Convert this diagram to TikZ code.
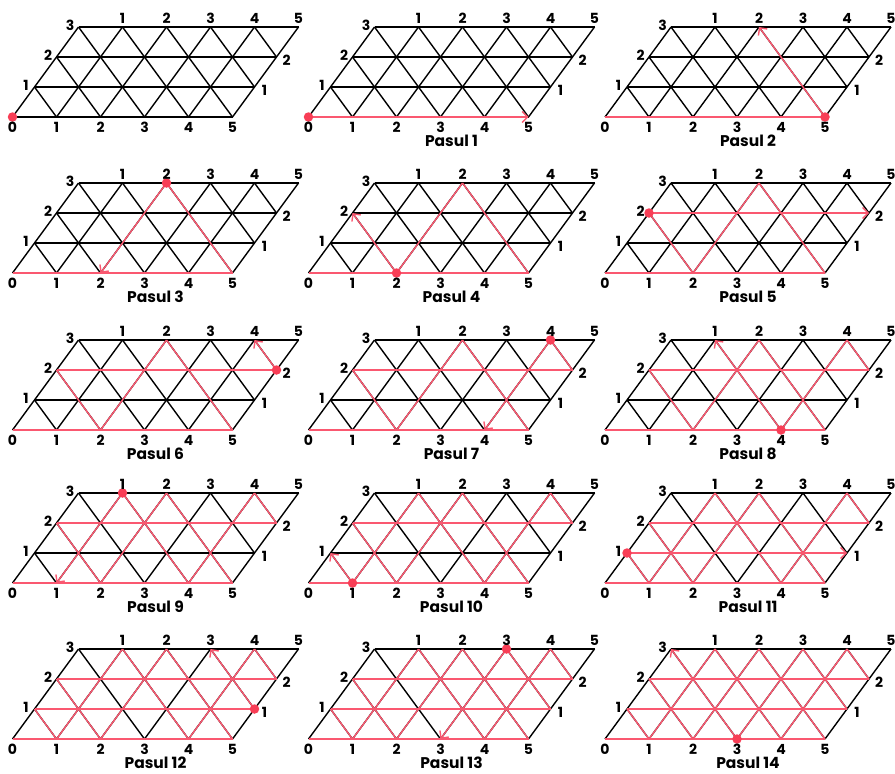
\documentclass[tikz,border=0pt]{standalone}
\usepackage{fontspec}
\setmainfont{Poppins}
\usetikzlibrary{arrows.meta}
\definecolor{pathred}{RGB}{250,88,112}
\definecolor{dotred}{RGB}{248,62,86}
\tikzset{
  gridline/.style={black, line width=1.4pt},
  redpath/.style={pathred, line width=1.4pt},
  redarrow/.style={redpath, -{Straight Barb[length=5.5pt,width=11pt]}},
  num/.style={font=\fontsize{14}{16}\selectfont\bfseries, inner sep=0pt},
  pasul/.style={font=\fontsize{15.5}{17}\selectfont\bfseries, inner sep=0pt},
  reddot/.style={circle, fill=dotred, minimum size=9.5pt, inner sep=0pt},
}
% #1 id, #2 ox, #3 oy, #4 dot a, #5 dot r, #6 caption
\newcommand\drawpanel[6]{%
  \begin{scope}[shift={(#2,#3)}]
    \foreach \a in {0,...,5}{\foreach \r in {0,...,3}{%
      \coordinate (q#1-\a-\r) at ({(\a+0.5*\r)*44},{-\r*30});}}
    \foreach \r in {0,...,3}{\draw[gridline] (q#1-0-\r) -- (q#1-5-\r);}
    \foreach \a in {0,...,5}{\draw[gridline] (q#1-\a-0) -- (q#1-\a-3);}
    \foreach \a/\r/\b/\t in {1/0/0/1,2/0/0/2,3/0/0/3,4/0/1/3,5/0/2/3,5/1/3/3,5/2/4/3}{%
      \draw[gridline] (q#1-\a-\r) -- (q#1-\b-\t);}
    \foreach \s/\a/\r/\b/\t in {1/0/0/5/0,2/5/0/2/3,3/2/3/2/0,4/2/0/0/2,5/0/2/5/2,6/5/2/4/3,7/4/3/4/0,8/4/0/1/3,9/1/3/1/0,10/1/0/0/1,11/0/1/5/1,12/5/1/3/3,13/3/3/3/0,14/3/0/0/3}{%
      \ifnum\s<#1 \draw[redpath] (q#1-\a-\r) -- (q#1-\b-\t);\fi
      \ifnum\s=#1 \draw[redarrow] (q#1-\a-\r) -- (q#1-\b-\t);\fi}
    \node[reddot] (dot#1) at (q#1-#4-#5) {};
    \foreach \a in {0,...,5}{\node[num] (lb#1-\a) at ([yshift=-10.5pt]q#1-\a-0) {\a};}
    \foreach \a in {1,...,5}{\node[num] (lt#1-\a) at ([yshift=9pt]q#1-\a-3) {\a};}
    \foreach \r in {1,2,3}{\node[num] (ll#1-\r) at ([xshift=-8.5pt,yshift=2pt]q#1-0-\r) {\r};}
    \foreach \r in {1,2}{\node[num] (lr#1-\r) at ([xshift=10pt,yshift=-3pt]q#1-5-\r) {\r};}
    \node[pasul] (cap#1) at (143,24) {#6};
  \end{scope}}
\begin{document}
\begin{tikzpicture}[x=1pt,y=-1pt]
  \useasboundingbox (0,0) rectangle (895,774);
  \drawpanel{0}{12.5}{117}{0}{0}{}
  \drawpanel{1}{308.5}{117}{0}{0}{Pasul 1}
  \drawpanel{2}{605}{117}{5}{0}{Pasul 2}
  \drawpanel{3}{12.5}{273}{2}{3}{Pasul 3}
  \drawpanel{4}{308.5}{273}{2}{0}{Pasul 4}
  \drawpanel{5}{605}{273}{0}{2}{Pasul 5}
  \drawpanel{6}{12.5}{430}{5}{2}{Pasul 6}
  \drawpanel{7}{308.5}{430}{4}{3}{Pasul 7}
  \drawpanel{8}{605}{430}{4}{0}{Pasul 8}
  \drawpanel{9}{12.5}{583}{1}{3}{Pasul 9}
  \drawpanel{10}{308.5}{583}{1}{0}{Pasul 10}
  \drawpanel{11}{605}{583}{0}{1}{Pasul 11}
  \drawpanel{12}{12.5}{739}{5}{1}{Pasul 12}
  \drawpanel{13}{308.5}{739}{3}{3}{Pasul 13}
  \drawpanel{14}{605}{739}{3}{0}{Pasul 14}
\end{tikzpicture}
\end{document}
